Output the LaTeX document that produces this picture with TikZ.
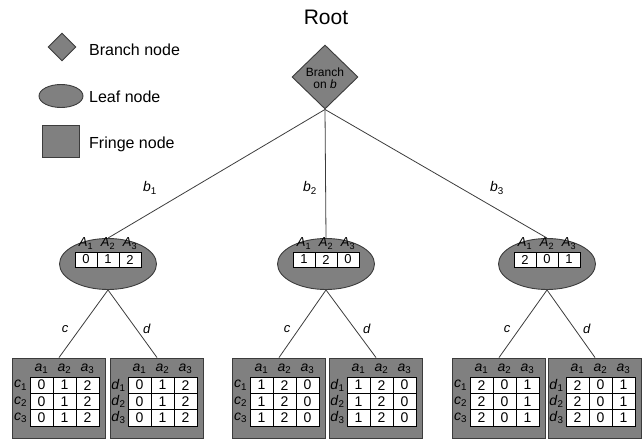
\documentclass[tikz,border=0pt]{standalone}
\usepackage{fontspec}
\setmainfont{Liberation Sans}
\usetikzlibrary{shapes.geometric}
\definecolor{nodegray}{RGB}{128,128,128}
\definecolor{edgegray}{RGB}{60,60,60}
\newcommand\vs[2]{\textit{#1}\textsubscript{#2}}
\newcommand\fsz[1]{\fontsize{#1}{#1}\selectfont}
\tikzset{
  shapeline/.style={draw=edgegray, line width=0.9pt, fill=nodegray},
  fringe/.style={shapeline, rectangle, minimum width=93pt, minimum height=80pt, inner sep=0pt},
  leaf/.style={shapeline, ellipse, minimum width=97pt, minimum height=51pt, inner sep=0pt},
  branch/.style={shapeline, diamond, minimum width=66pt, minimum height=64pt, inner sep=0pt},
  fcell/.style={draw=black, line width=0.6pt, fill=white, rectangle, minimum width=23pt, minimum height=16.33pt, inner sep=0pt, font=\fsz{14}},
  lcell/.style={draw=black, line width=0.6pt, fill=white, rectangle, minimum width=22pt, minimum height=15pt, inner sep=0pt, font=\fsz{13}},
  fhdr/.style={inner sep=0pt, font=\fsz{14}},
  lhdr/.style={inner sep=0pt, font=\fsz{13}},
  conn/.style={draw=edgegray, line width=0.8pt},
  elabel/.style={inner sep=0pt, font=\fsz{14}},
  legtext/.style={inner sep=0pt, anchor=west, font=\fsz{16}}
}
% name, x, y, letter, v1, v2, v3
\newcommand\fringebox[7]{%
  \node[fringe] (#1) at (#2,#3) {};
  \begin{scope}[shift={(#2+5.5,#3+3.5)}]
    \foreach \c/\v [count=\ci] in {-1/#5,0/#6,1/#7} {
      \foreach \r [count=\ri] in {-1,0,1} {
        \node[fcell] (#1-\ri-\ci) at (\c*23,\r*16.33) {\v};
      }
      \node[fhdr] (#1-h\ci) at (\c*23,-32.5) {\vs{a}{\ci}};
      \node[fhdr] (#1-r\ci) at (-44,\c*16.33) {\vs{#4}{\ci}};
    }
  \end{scope}}
% name, x, y, v1, v2, v3
\newcommand\leafbox[6]{%
  \node[leaf] (#1) at (#2,#3) {};
  \begin{scope}[shift={(#2,#3-4.5)}]
    \foreach \c/\v [count=\ci] in {-1/#4,0/#5,1/#6} {
      \node[lcell] (#1-\ci) at (\c*22,0) {\v};
      \node[lhdr] (#1-h\ci) at (\c*22,-16) {\vs{A}{\ci}};
    }
  \end{scope}}
\begin{document}
\begin{tikzpicture}[x=1pt,y=-1pt]
\useasboundingbox (0,0) rectangle (644,439);
% title
\node[inner sep=0pt, font=\fsz{21}] (title) at (326,17) {Root};
% legend
\node[shapeline, diamond, minimum width=28pt, minimum height=28pt, inner sep=0pt] (legB) at (62,47) {};
\node[legtext] (legBt) at (89,50) {Branch node};
\node[shapeline, ellipse, minimum width=44pt, minimum height=23pt, inner sep=0pt] (legL) at (61,96) {};
\node[legtext] (legLt) at (89,97) {Leaf node};
\node[shapeline, rectangle, minimum width=37pt, minimum height=32pt, inner sep=0pt] (legF) at (61,141) {};
\node[legtext] (legFt) at (89,144) {Fringe node};
% root
\node[branch] (root) at (325,77) {};
\node[inner sep=0pt, align=center, font=\fsz{12}] (roottext) at (325,78) {Branch\\[-0.5pt]on \textit{b}};
% leaves
\leafbox{L1}{108}{264}{0}{1}{2}
\leafbox{L2}{326}{264}{1}{2}{0}
\leafbox{L3}{547}{264}{2}{0}{1}
\draw[conn] (root.south) -- (L1.north);
\draw[conn] (root.south) -- (L2.north);
\draw[conn] (root.south) -- (L3.north);
\node[elabel] (lb1) at (150,188) {\vs{b}{1}};
\node[elabel] (lb2) at (310,188) {\vs{b}{2}};
\node[elabel] (lb3) at (497,188) {\vs{b}{3}};
% fringes
\fringebox{F1c}{59}{398}{c}{0}{1}{2}
\fringebox{F1d}{157}{398}{d}{0}{1}{2}
\fringebox{F2c}{279}{398}{c}{1}{2}{0}
\fringebox{F2d}{376}{398}{d}{1}{2}{0}
\fringebox{F3c}{499}{398}{c}{2}{0}{1}
\fringebox{F3d}{595}{398}{d}{2}{0}{1}
\foreach \l in {1,2,3} {
  \draw[conn] (L\l.south) -- (F\l c.north);
  \draw[conn] (L\l.south) -- (F\l d.north);
}
\node[elabel, font=\fsz{13}] (lc1) at (65,329) {\textit{c}};
\node[elabel, font=\fsz{13}] (ld1) at (147,329) {\textit{d}};
\node[elabel, font=\fsz{13}] (lc2) at (287,329) {\textit{c}};
\node[elabel, font=\fsz{13}] (ld2) at (367,329) {\textit{d}};
\node[elabel, font=\fsz{13}] (lc3) at (507,329) {\textit{c}};
\node[elabel, font=\fsz{13}] (ld3) at (587,329) {\textit{d}};
\end{tikzpicture}
\end{document}
